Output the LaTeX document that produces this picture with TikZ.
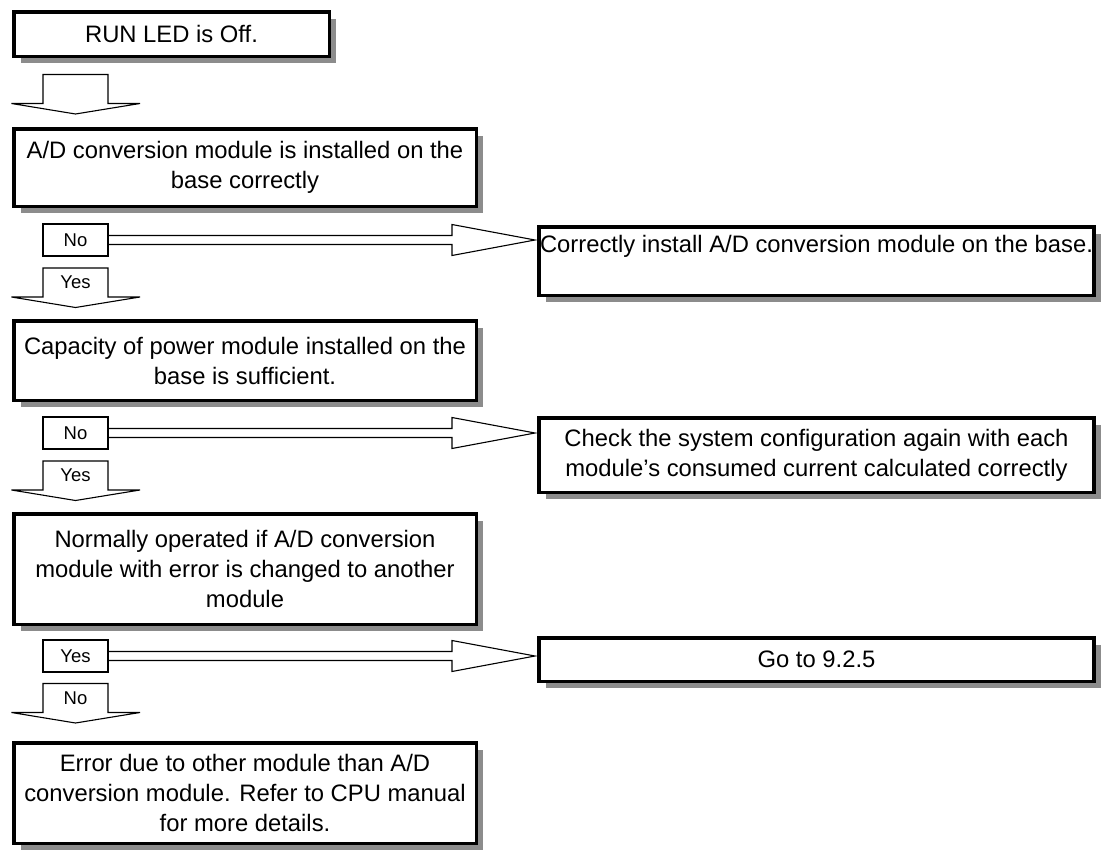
\documentclass[tikz,border=0pt]{standalone}
\usepackage{fontspec}
\setmainfont{Liberation Sans}
\usetikzlibrary{calc,shadows}

\begin{document}
\begin{tikzpicture}[
  x=1pt, y=1pt,
  every node/.style={font=\fontsize{23.8}{30}\selectfont},
  stepbox/.style={draw, line width=3.5pt, fill=white, inner sep=1pt, outer sep=0pt, anchor=north west, align=center,
    drop shadow={shadow xshift=7pt, shadow yshift=-7pt, fill=black!45, opacity=1}},
  tagbox/.style={draw, line width=1.1pt, minimum width=65pt, minimum height=32pt, inner sep=0pt, outer sep=0pt, font=\fontsize{18.5}{20}\selectfont},
  shaft/.style={minimum width=65pt, minimum height=29pt, inner sep=0pt, outer sep=0pt, font=\fontsize{18.5}{20}\selectfont},
  blockline/.style={line width=1.1pt}
]
\useasboundingbox (0,0) rectangle (1101,-852);

% left column
\node[stepbox, minimum width=315.5pt, minimum height=44.5pt] (run) at (13.75,-11.75) {RUN LED is Off.};
\node[shaft] (go0) at (75.5,-89) {};
\node[stepbox, minimum width=462.5pt, minimum height=77.5pt] (mount) at (13.75,-128.75) {A/D conversion module is installed on the\\ base correctly};
\node[tagbox] (no1) at (75.5,-240) {No};
\node[shaft] (yes1) at (75.5,-282.5) {Yes};
\node[stepbox, minimum width=462.5pt, minimum height=79.5pt] (power) at (13.75,-320.75) {Capacity of power module installed on the\\ base is sufficient.};
\node[tagbox] (no2) at (75.5,-433) {No};
\node[shaft] (yes2) at (75.5,-475.5) {Yes};
\node[stepbox, minimum width=462.5pt, minimum height=110.5pt] (swap) at (13.75,-513.75) {Normally operated if A/D conversion\\ module with error is changed to another\\ module};
\node[tagbox] (yes3) at (75.5,-656) {Yes};
\node[shaft] (no3) at (75.5,-698) {No};
\node[stepbox, minimum width=462.5pt, minimum height=100.5pt] (other) at (13.75,-742.75) {Error due to other module than A/D\\ conversion module. Refer to CPU manual\\ for more details.};

% right column
\node[stepbox, minimum width=555pt, minimum height=68.5pt] (fix1) at (539,-226.75) {Correctly install A/D conversion module on the base.\\[4pt] \mbox{}};
\node[stepbox, minimum width=555pt, minimum height=74.5pt] (fix2) at (539,-417.75) {Check the system configuration again with each\\ module’s consumed current calculated correctly};
\node[stepbox, minimum width=555pt, minimum height=43.5pt] (goto) at (539,-637.75) {Go to 9.2.5};

% down arrows
\draw[blockline] ($(go0.south west)+(-31.5,0)$) -- (go0.south west) -- (go0.north west) -- (go0.north east) -- (go0.south east) -- ++(32,0) -- ($(go0.south)+(0,-10.5)$) -- cycle;
\draw[blockline] ($(yes1.south west)+(-31.5,0)$) -- (yes1.south west) -- (yes1.north west) -- (yes1.north east) -- (yes1.south east) -- ++(32,0) -- ($(yes1.south)+(0,-10.5)$) -- cycle;
\draw[blockline] ($(yes2.south west)+(-31.5,0)$) -- (yes2.south west) -- (yes2.north west) -- (yes2.north east) -- (yes2.south east) -- ++(32,0) -- ($(yes2.south)+(0,-10.5)$) -- cycle;
\draw[blockline] ($(no3.south west)+(-31.5,0)$) -- (no3.south west) -- (no3.north west) -- (no3.north east) -- (no3.south east) -- ++(32,0) -- ($(no3.south)+(0,-10.5)$) -- cycle;

% side arrows
\coordinate (tip1) at ($(fix1.west |- no1.east)+(-4,0)$);
\coordinate (tip2) at ($(fix2.west |- no2.east)+(-4,0)$);
\coordinate (tip3) at ($(goto.west |- yes3.east)+(-4,0)$);
\draw[blockline] ($(no1.east)+(0,4.5)$) -| ($(tip1)+(-83,15.5)$) -- (tip1) -- ($(tip1)+(-83,-15.5)$) |- ($(no1.east)+(0,-4.5)$);
\draw[blockline] ($(no2.east)+(0,4.5)$) -| ($(tip2)+(-83,15.5)$) -- (tip2) -- ($(tip2)+(-83,-15.5)$) |- ($(no2.east)+(0,-4.5)$);
\draw[blockline] ($(yes3.east)+(0,4.5)$) -| ($(tip3)+(-83,15.5)$) -- (tip3) -- ($(tip3)+(-83,-15.5)$) |- ($(yes3.east)+(0,-4.5)$);
\end{tikzpicture}
\end{document}
